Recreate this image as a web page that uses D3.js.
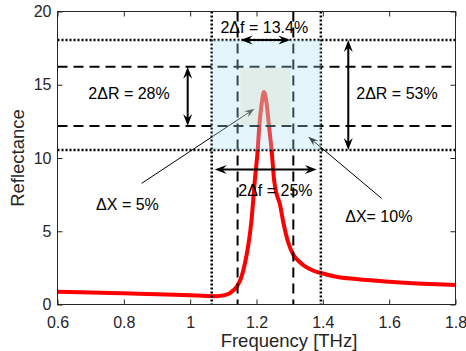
<!DOCTYPE html>
<html>
<head>
<meta charset="utf-8">
<script src="https://cdn.jsdelivr.net/npm/d3@7"></script>
<style>
body { margin: 0; background: #fff; }
svg { display: block; font-family: "Liberation Sans", Arial, Helvetica, sans-serif; }
</style>
</head>
<body>
<svg width="466" height="351"></svg>
<script>
// reflectance spectrum
var freq = [0.6, 0.7, 0.8, 0.9, 1.0, 1.05, 1.08, 1.10, 1.12, 1.14, 1.155, 1.165, 1.175, 1.185,
            1.195, 1.2035, 1.2085, 1.215, 1.2226, 1.23, 1.2376, 1.2457, 1.253, 1.26, 1.271,
            1.28, 1.29, 1.30, 1.311, 1.33, 1.35, 1.37, 1.394, 1.44, 1.5, 1.6, 1.7, 1.8];
var refl = [0.87, 0.82, 0.76, 0.70, 0.63, 0.58, 0.57, 0.62, 0.78, 1.2, 1.9, 2.8, 4.0, 5.76,
            8.5, 10.5, 12.2, 13.6, 14.5, 13.8, 12.2, 10.5, 8.5, 7.6, 6.8,
            5.7, 4.7, 3.95, 3.4, 2.9, 2.55, 2.32, 2.15, 1.9, 1.74, 1.55, 1.42, 1.33];

var xTicks = [0.6, 0.8, 1, 1.2, 1.4, 1.6, 1.8];
var yTicks = [0, 5, 10, 15, 20];

// band limits
var fOuter = [1.065, 1.394];   // dotted verticals
var fInner = [1.143, 1.311];   // dashed verticals
var rOuter = [10.54, 18.05];   // dotted horizontals
var rInner = [12.18, 16.23];   // dashed horizontals

var noteText = ["2\u0394R = 28%", "2\u0394R = 53%", "2\u0394f = 13.4%", "2\u0394f = 25%",
                "\u0394X = 5%", "\u0394X= 10%"];

var svg = d3.select("svg");
var ink = "#262626";

var x = d3.scaleLinear().domain([0.6, 1.8]).range([57.5, 455.5]);
var y = d3.scaleLinear().domain([0, 20]).range([304.5, 11.5]);

svg.append("clipPath").attr("id", "plot")
  .append("rect").attr("x", x(0.6)).attr("y", y(20))
  .attr("width", x(1.8) - x(0.6)).attr("height", y(0) - y(20));

var plot = svg.append("g").attr("clip-path", "url(#plot)");

// curve
var line = d3.line()
  .x(function(d, i) { return x(freq[i]); })
  .y(function(d) { return y(d); })
  .curve(d3.curveMonotoneX);

plot.append("path")
  .datum(refl)
  .attr("d", line)
  .attr("fill", "none")
  .attr("stroke", "#ff0000")
  .attr("stroke-width", 4)
  .attr("stroke-linejoin", "round");

// guide lines
function vline(f, dash, w) {
  plot.append("line")
    .attr("x1", x(f)).attr("x2", x(f))
    .attr("y1", y(20)).attr("y2", y(0))
    .attr("stroke", "#000").attr("stroke-width", w)
    .attr("stroke-dasharray", dash);
}
function hline(r, dash, w) {
  plot.append("line")
    .attr("x1", x(0.6)).attr("x2", x(1.8))
    .attr("y1", y(r)).attr("y2", y(r))
    .attr("stroke", "#000").attr("stroke-width", w)
    .attr("stroke-dasharray", dash);
}
fOuter.forEach(function(f) { vline(f, "2,2", 2.5); });
rOuter.forEach(function(r) { hline(r, "2,2", 2.5); });
fInner.forEach(function(f) { vline(f, "10,6", 2); });
rInner.forEach(function(r) { hline(r, "10,6", 2); });

// arrowhead helper (vback style)
function head(g, x1, y1, x2, y2, len, wid) {
  var a = Math.atan2(y2 - y1, x2 - x1);
  var pts = [[0, 0], [-len, -wid / 2], [-len * 0.65, 0], [-len, wid / 2]].map(function(p) {
    return [x2 + p[0] * Math.cos(a) - p[1] * Math.sin(a),
            y2 + p[0] * Math.sin(a) + p[1] * Math.cos(a)];
  });
  g.append("path").attr("d", d3.line()(pts) + "Z").attr("fill", "#000");
}
function arrow(g, x1, y1, x2, y2, w, len, wid) {
  var a = Math.atan2(y2 - y1, x2 - x1), k = len * 0.6;
  g.append("line")
    .attr("x1", x1).attr("y1", y1)
    .attr("x2", x2 - k * Math.cos(a)).attr("y2", y2 - k * Math.sin(a))
    .attr("stroke", "#000").attr("stroke-width", w);
  head(g, x1, y1, x2, y2, len, wid);
}
function darrow(g, x1, y1, x2, y2) {
  var a = Math.atan2(y2 - y1, x2 - x1), k = 7;
  g.append("line")
    .attr("x1", x1 + k * Math.cos(a)).attr("y1", y1 + k * Math.sin(a))
    .attr("x2", x2 - k * Math.cos(a)).attr("y2", y2 - k * Math.sin(a))
    .attr("stroke", "#000").attr("stroke-width", 2);
  head(g, x1, y1, x2, y2, 12, 9);
  head(g, x2, y2, x1, y1, 12, 9);
}

// thin pointer arrows (under the shading)
arrow(plot, x(0.8537), y(8.27), x(1.1939), y(13.36), 1, 10, 7);
arrow(plot, x(1.5774), y(7.24), x(1.3561), y(11.45), 1, 10, 7);

// shaded bands
plot.append("rect")
  .attr("x", x(fOuter[0])).attr("y", y(rOuter[1]))
  .attr("width", x(fOuter[1]) - x(fOuter[0]))
  .attr("height", y(rOuter[0]) - y(rOuter[1]))
  .attr("fill", "rgb(172,226,247)").attr("fill-opacity", 0.32);
plot.append("rect")
  .attr("x", x(fInner[0]) + 3).attr("y", y(rInner[1]) + 1)
  .attr("width", x(fInner[1]) - x(fInner[0]) - 6)
  .attr("height", y(rInner[0]) - y(rInner[1]) - 2)
  .attr("fill", "rgb(215,210,175)").attr("fill-opacity", 0.25);

// double arrows
darrow(plot, x(0.9925), y(rInner[1]), x(0.9925), y(rInner[0]));
darrow(plot, x(1.4767), y(rOuter[1]), x(1.4767), y(rOuter[0]));
darrow(plot, x(fInner[0]) + 3, y(rOuter[1]), x(fInner[1]) - 3, y(rOuter[1]));
darrow(plot, x(fOuter[0]) + 3, y(9.22), x(fOuter[1]) - 4, y(9.22));

// axes box
var axes = svg.append("g");
axes.append("rect")
  .attr("x", x(0.6)).attr("y", y(20))
  .attr("width", x(1.8) - x(0.6)).attr("height", y(0) - y(20))
  .attr("fill", "none").attr("stroke", ink).attr("stroke-width", 1);

var xAxis = d3.axisBottom(x).tickValues(xTicks).tickSizeInner(-5).tickSizeOuter(0)
  .tickPadding(12).tickFormat(function(d) { return d; });
var yAxis = d3.axisLeft(y).tickValues(yTicks).tickSizeInner(-5).tickSizeOuter(0)
  .tickPadding(6);

function styleAxis(g) {
  g.select(".domain").remove();
  g.selectAll("line").attr("stroke", ink);
  g.selectAll("text").attr("fill", ink).style("font-size", "16px")
    .style("font-family", "'Liberation Sans', Arial, sans-serif");
}
axes.append("g").attr("transform", "translate(0," + y(0) + ")").call(xAxis).call(styleAxis);
axes.append("g").attr("transform", "translate(" + x(0.6) + ",0)").call(yAxis).call(styleAxis);
axes.append("g").attr("transform", "translate(0," + y(20) + ")")
  .call(d3.axisTop(x).tickValues(xTicks).tickSizeInner(-5).tickSizeOuter(0).tickFormat(""))
  .call(styleAxis);
axes.append("g").attr("transform", "translate(" + x(1.8) + ",0)")
  .call(d3.axisRight(y).tickValues(yTicks).tickSizeInner(-5).tickSizeOuter(0).tickFormat(""))
  .call(styleAxis);

// axis titles
svg.append("text")
  .attr("x", 289).attr("y", 347)
  .attr("text-anchor", "middle")
  .attr("fill", ink).style("font-size", "18.5px")
  .text("Frequency [THz]");
svg.append("text")
  .attr("transform", "translate(24," + ((y(0) + y(20)) / 2) + ") rotate(-90)")
  .attr("text-anchor", "middle")
  .attr("fill", ink).style("font-size", "18.5px")
  .text("Reflectance");

// annotation text
var notePos = [[0.8156, 14.43], [1.6235, 14.43], [1.2235, 18.94], [1.257, 7.81],
               [0.811, 6.85], [1.5687, 6.03]];
svg.append("g").selectAll("text")
  .data(noteText)
  .enter().append("text")
  .attr("x", function(d, i) { return x(notePos[i][0]); })
  .attr("y", function(d, i) { return y(notePos[i][1]); })
  .attr("dy", "0.36em")
  .attr("text-anchor", "middle")
  .attr("fill", "#000")
  .style("font-size", "16px")
  .text(function(d) { return d; });
</script>
</body>
</html>
